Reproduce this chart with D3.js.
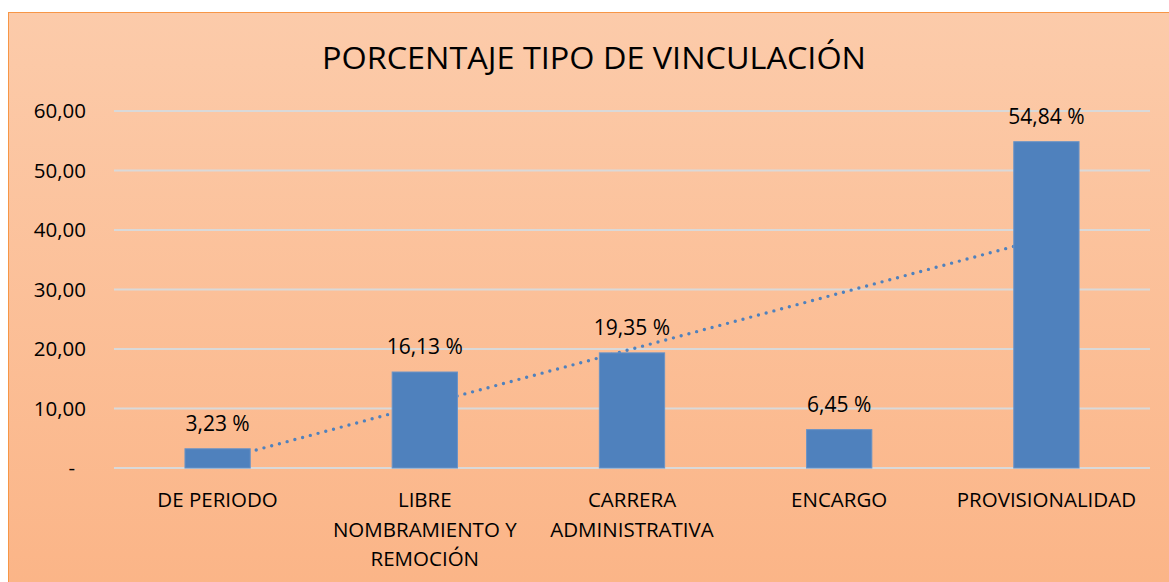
<!DOCTYPE html>
<html>
<head>
<meta charset="utf-8">
<script src="https://cdnjs.cloudflare.com/ajax/libs/d3/7.8.5/d3.min.js"></script>
<style>
  body { margin: 0; background: #fff; }
  text { font-family: "Open Sans", "Noto Sans", sans-serif; fill: #000; }
</style>
</head>
<body>
<script>
// data
const categories = ["DE PERIODO", "LIBRE NOMBRAMIENTO Y REMOCIÓN", "CARRERA ADMINISTRATIVA", "ENCARGO", "PROVISIONALIDAD"];
const catLines = [["DE PERIODO"], ["LIBRE", "NOMBRAMIENTO Y", "REMOCIÓN"], ["CARRERA", "ADMINISTRATIVA"], ["ENCARGO"], ["PROVISIONALIDAD"]];
const values = [3.23, 16.13, 19.35, 6.45, 54.84];
const yTicks = [0, 10, 20, 30, 40, 50, 60];
const title = "PORCENTAJE TIPO DE VINCULACIÓN";

const W = 1169, H = 582;
const plotL = 114, plotR = 1150, plotT = 111, plotB = 468;

const svg = d3.select("body").append("svg")
  .attr("width", W)
  .attr("height", H);

const defs = svg.append("defs");
const grad = defs.append("linearGradient")
  .attr("id", "bg").attr("x1", 0).attr("y1", 0).attr("x2", 0).attr("y2", 1);
grad.append("stop").attr("offset", "0%").attr("stop-color", "#FCCBAA");
grad.append("stop").attr("offset", "100%").attr("stop-color", "#FBB486");

// chart area with orange border, runs off the right/bottom edge
svg.append("rect")
  .attr("x", 8.5).attr("y", 12.5)
  .attr("width", W + 10).attr("height", H + 10)
  .attr("fill", "url(#bg)")
  .attr("stroke", "#F79646")
  .attr("stroke-width", 1);

svg.append("text")
  .attr("x", 594).attr("y", 69)
  .attr("text-anchor", "middle")
  .attr("font-size", 31)
  .attr("textLength", 544)
  .attr("lengthAdjust", "spacingAndGlyphs")
  .text(title);

const x = d3.scaleBand().domain(categories).range([plotL, plotR]).padding(0);
const y = d3.scaleLinear().domain([0, 60]).range([plotB, plotT]);

// gridlines
svg.append("g").selectAll("line")
  .data(yTicks)
  .join("line")
  .attr("x1", plotL).attr("x2", plotR)
  .attr("y1", d => y(d)).attr("y2", d => y(d))
  .attr("stroke", "#D9D9D9")
  .attr("stroke-width", 2);

// y axis labels
const fmt = v => v === 0 ? "-" : d3.format(".2f")(v).replace(".", ",");
svg.append("g").selectAll("text")
  .data(yTicks)
  .join("text")
  .attr("x", d => d === 0 ? 75 : 86)
  .attr("y", d => y(d))
  .attr("dy", "0.35em")
  .attr("text-anchor", "end")
  .attr("font-size", 20.5)
  .text(fmt);

// linear trendline (least squares over category index), drawn behind bars
const n = values.length;
const xs = d3.range(1, n + 1);
const mx = d3.mean(xs), my = d3.mean(values);
const slope = d3.sum(xs, (xi, i) => (xi - mx) * (values[i] - my)) / d3.sum(xs, xi => (xi - mx) ** 2);
const icpt = my - slope * mx;
const cx = i => x(categories[i]) + x.bandwidth() / 2;
svg.append("line")
  .attr("x1", cx(0)).attr("y1", y(icpt + slope * 1))
  .attr("x2", cx(n - 1)).attr("y2", y(icpt + slope * n))
  .attr("stroke", "#4F81BD")
  .attr("stroke-width", 3.4)
  .attr("stroke-linecap", "round")
  .attr("stroke-dasharray", "0 8");

// bars
const bw = x.bandwidth() * 0.315;
svg.append("g").selectAll("rect")
  .data(values)
  .join("rect")
  .attr("x", (d, i) => cx(i) - bw / 2)
  .attr("y", d => y(d))
  .attr("width", bw)
  .attr("height", d => y(0) - y(d))
  .attr("fill", "#4F81BD")
  .attr("stroke", "#6A93C6")
  .attr("stroke-width", 1);

// value labels
svg.append("g").selectAll("text")
  .data(values)
  .join("text")
  .attr("x", (d, i) => cx(i))
  .attr("y", d => y(d) - 18)
  .attr("text-anchor", "middle")
  .attr("font-size", 21)
  .text(d => d3.format(".2f")(d).replace(".", ",") + " %");

// category labels
const cg = svg.append("g");
catLines.forEach((lines, i) => {
  const t = cg.append("text")
    .attr("x", cx(i))
    .attr("y", 507)
    .attr("text-anchor", "middle")
    .attr("font-size", 20.5);
  lines.forEach((ln, k) => {
    t.append("tspan").attr("x", cx(i)).attr("dy", k === 0 ? 0 : 29.5).text(ln);
  });
});
</script>
</body>
</html>
